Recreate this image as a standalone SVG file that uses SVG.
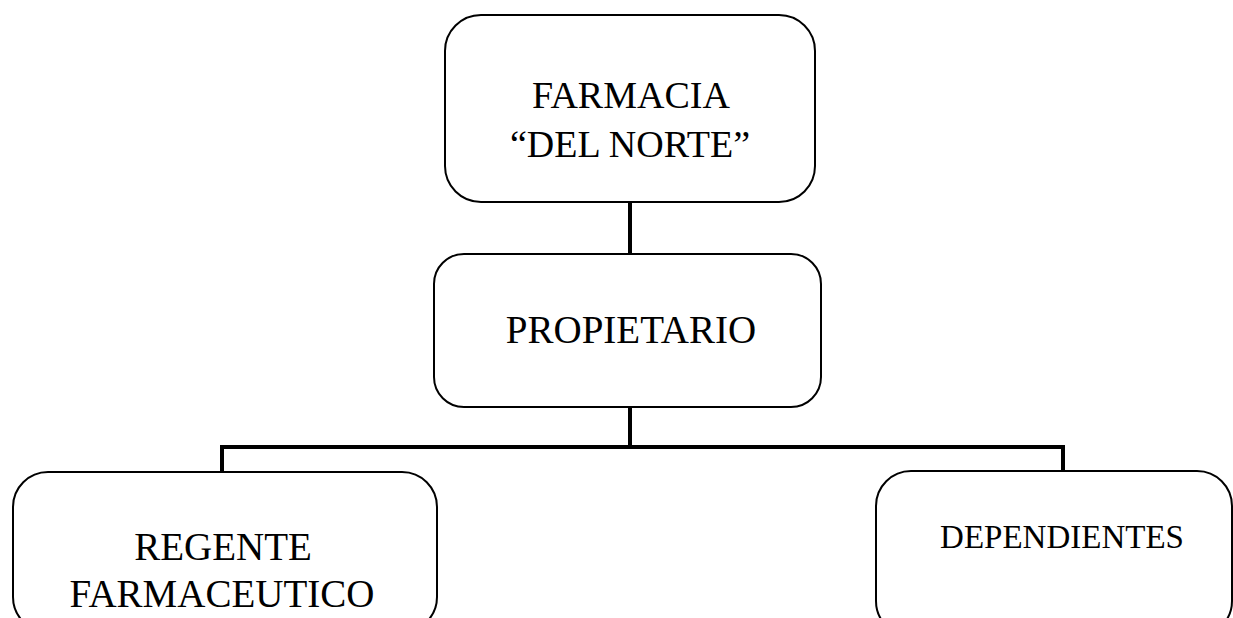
<svg xmlns="http://www.w3.org/2000/svg" width="1233" height="618" viewBox="0 0 1233 618">
<style>
.box{fill:#fff;stroke:#000;stroke-width:2}
.t{font-family:"Liberation Serif","Times New Roman",serif;fill:#000;text-anchor:middle}
.c{fill:none;stroke:#000;stroke-width:4;stroke-linecap:square}
</style>
<rect width="1233" height="618" fill="#fff"/>
<g id="connectors">
<line class="c" x1="630" y1="202" x2="630" y2="254"/>
<line class="c" x1="630" y1="407" x2="630" y2="446"/>
<polyline class="c" points="222,472 222,447 1063,447 1063,471"/>
</g>
<g id="farmacia">
<rect class="box" x="445" y="15" width="370" height="187" rx="36"/>
<text class="t" x="631" y="108" font-size="38">FARMACIA</text>
<text class="t" x="630" y="157" font-size="38">“DEL NORTE”</text>
</g>
<g id="propietario">
<rect class="box" x="434" y="254" width="387" height="153" rx="30"/>
<text class="t" x="631" y="343" font-size="39">PROPIETARIO</text>
</g>
<g id="regente">
<rect class="box" x="13" y="472" width="424" height="160" rx="35"/>
<text class="t" x="223" y="560" font-size="39">REGENTE</text>
<text class="t" x="222" y="607" font-size="39">FARMACEUTICO</text>
</g>
<g id="dependientes">
<rect class="box" x="876" y="471" width="356" height="165" rx="35"/>
<text class="t" x="1062" y="548" font-size="33">DEPENDIENTES</text>
</g>
</svg>
